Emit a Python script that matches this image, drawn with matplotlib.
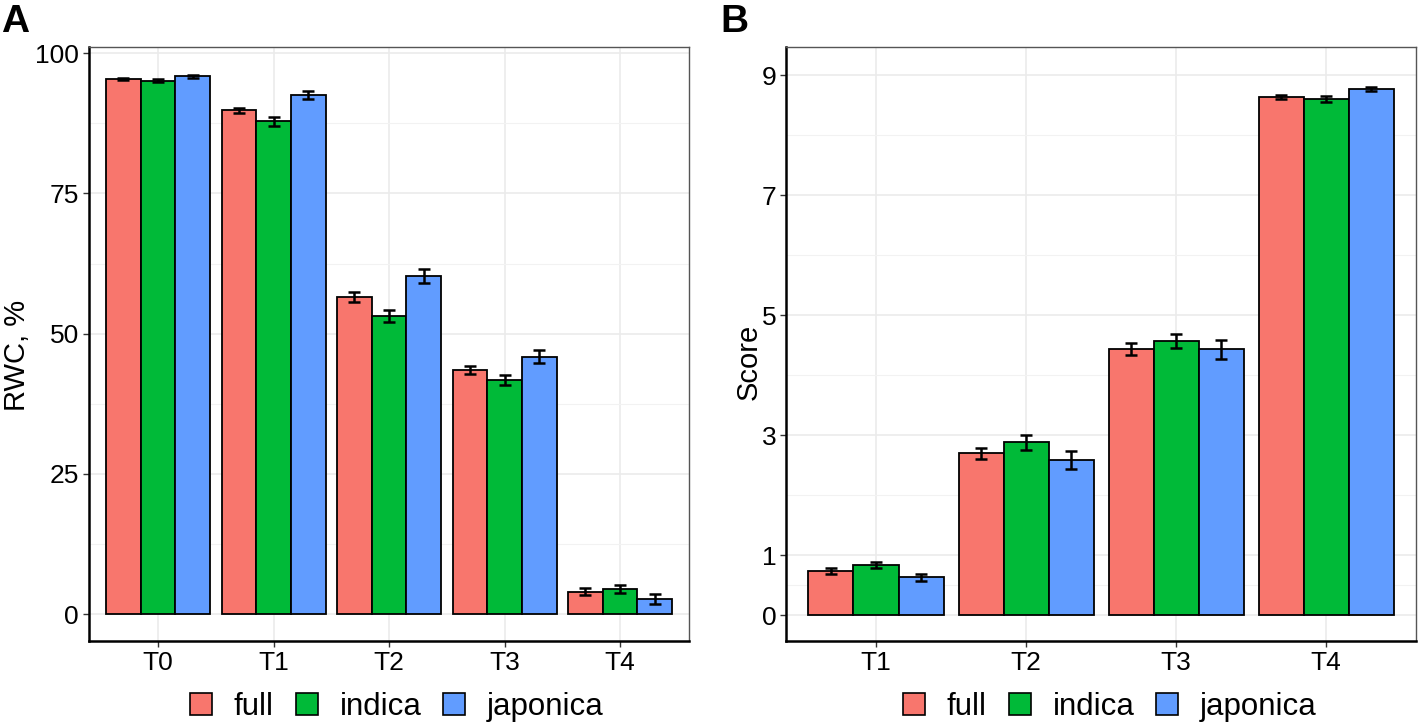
import matplotlib.pyplot as plt
from matplotlib.patches import Patch
from matplotlib.ticker import FixedLocator

# datos
grupos = ["full", "indica", "japonica"]
colores = ["#F8766D", "#00BA38", "#619CFF"]

rwc_etapas = ["T0", "T1", "T2", "T3", "T4"]
rwc_full = [95.4, 89.8, 56.6, 43.5, 4.0]
rwc_indica = [95.1, 87.9, 53.2, 41.7, 4.4]
rwc_japonica = [95.9, 92.6, 60.3, 45.9, 2.7]
rwc_err_full = [0.25, 0.5, 0.9, 0.7, 0.6]
rwc_err_indica = [0.25, 0.8, 1.1, 0.9, 0.7]
rwc_err_japonica = [0.3, 0.7, 1.2, 1.2, 0.9]

score_etapas = ["T1", "T2", "T3", "T4"]
score_full = [0.74, 2.70, 4.44, 8.64]
score_indica = [0.84, 2.88, 4.57, 8.61]
score_japonica = [0.63, 2.58, 4.43, 8.77]
score_err_full = [0.05, 0.09, 0.10, 0.03]
score_err_indica = [0.05, 0.12, 0.12, 0.05]
score_err_japonica = [0.06, 0.15, 0.16, 0.04]

plt.rcParams["font.family"] = ["Liberation Sans", "DejaVu Sans"]

fig = plt.figure(figsize=(14.18, 7.27), dpi=100)
ax_a = fig.add_axes([0.0626, 0.1183, 0.4236, 0.817])
ax_b = fig.add_axes([0.5543, 0.1183, 0.4443, 0.817])


def panel(ax, etapas, medias, errores, ylim, yticks, yminor, ylabel, pos_label):
    ancho = 0.3
    for j in range(3):
        xs = [i + (j - 1) * ancho for i in range(len(etapas))]
        ax.bar(xs, medias[j], width=ancho, color=colores[j],
               edgecolor="black", linewidth=1.3, zorder=3)
        ax.errorbar(xs, medias[j], yerr=errores[j], fmt="none",
                    ecolor="black", elinewidth=1.8, capsize=4.5,
                    capthick=1.8, zorder=4)
    ax.set_xlim(-0.6, len(etapas) - 0.4)
    ax.set_ylim(*ylim)
    ax.set_xticks(range(len(etapas)))
    ax.set_xticklabels(etapas)
    ax.set_yticks(yticks)
    ax.yaxis.set_minor_locator(FixedLocator(yminor))
    ax.grid(True, which="major", color="#EBEBEB", linewidth=1.2, zorder=0)
    ax.grid(True, which="minor", axis="y", color="#F2F2F2", linewidth=0.8, zorder=0)
    ax.set_axisbelow(True)
    ax.tick_params(which="major", direction="out", length=4, width=1.0,
                   colors="#333333", labelcolor="black", labelsize=19, pad=3)
    ax.tick_params(which="minor", length=0)
    for lado in ["top", "right"]:
        ax.spines[lado].set_color("#555555")
        ax.spines[lado].set_linewidth(1.0)
    for lado in ["left", "bottom"]:
        ax.spines[lado].set_color("black")
        ax.spines[lado].set_linewidth(1.8)
    ax.set_ylabel(ylabel, fontsize=21)
    ax.yaxis.set_label_coords(*pos_label)


panel(ax_a, rwc_etapas,
      [rwc_full, rwc_indica, rwc_japonica],
      [rwc_err_full, rwc_err_indica, rwc_err_japonica],
      (-4.8, 101.1), [0, 25, 50, 75, 100], [12.5, 37.5, 62.5, 87.5],
      "RWC, %", (-0.097, 0.48))
panel(ax_b, score_etapas,
      [score_full, score_indica, score_japonica],
      [score_err_full, score_err_indica, score_err_japonica],
      (-0.43, 9.47), [0, 1, 3, 5, 7, 9], [0.5, 2, 4, 6, 8],
      "Score", (-0.037, 0.47))

# leyendas debajo de cada panel
manijas = [Patch(facecolor=c, edgecolor="black", linewidth=1.2) for c in colores]
for cx in (397 / 1418, 1110 / 1418):
    fig.legend(manijas, grupos, loc="center", ncol=3, frameon=False,
               bbox_to_anchor=(cx, 0.027), fontsize=22.5,
               handlelength=0.7, handleheight=0.7, handletextpad=0.7,
               columnspacing=0.7)

fig.text(0.001, 0.995, "A", fontsize=28, fontweight="bold", va="top", ha="left")
fig.text(0.508, 0.995, "B", fontsize=28, fontweight="bold", va="top", ha="left")

plt.savefig("out.png", dpi=100)
